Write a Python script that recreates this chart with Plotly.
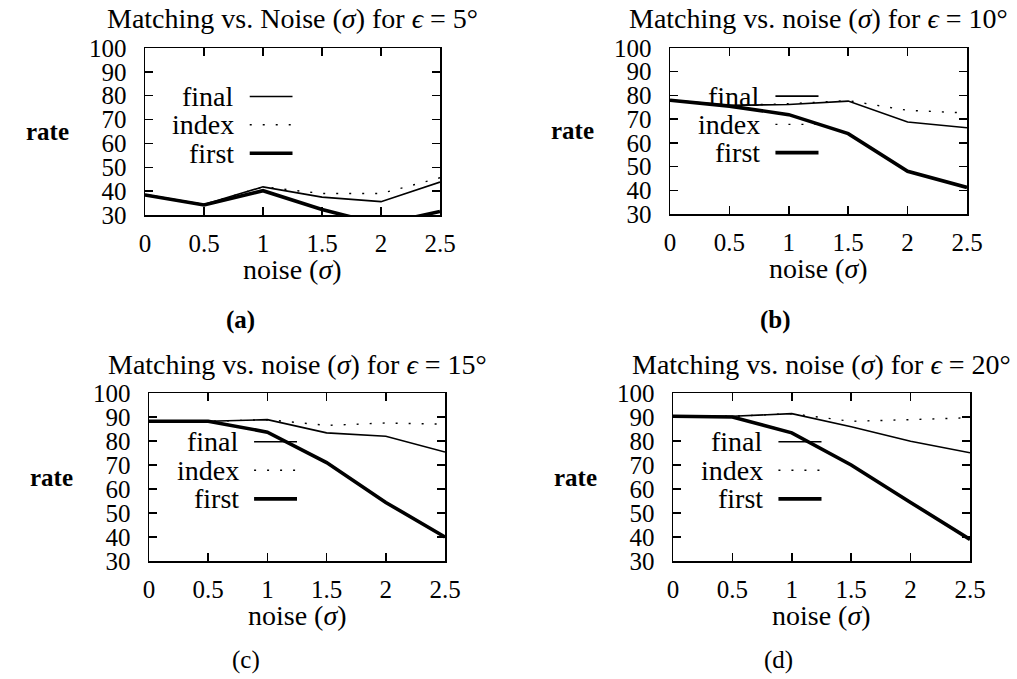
import plotly.graph_objects as go

# ---------------- data ----------------
noise = [0, 0.5, 1, 1.5, 2, 2.5]
x_ticks = [0, 0.5, 1, 1.5, 2, 2.5]
x_tick_text = ["0", "0.5", "1", "1.5", "2", "2.5"]
y_ticks = [30, 40, 50, 60, 70, 80, 90, 100]

a_final = [38.6, 34.4, 41.8, 37.5, 35.6, 43.8]
a_index = [38.6, 34.4, 41.8, 39.0, 39.0, 45.6]
a_first = [38.4, 34.2, 40.2, 32.3, 26.0, 31.5]

b_final = [78.0, 75.8, 76.2, 77.6, 68.8, 66.4]
b_index = [78.0, 75.8, 76.5, 77.8, 73.7, 72.6]
b_first = [78.0, 75.5, 71.9, 63.9, 48.0, 41.2]

c_final = [88.2, 88.2, 88.9, 83.4, 82.0, 75.4]
c_index = [88.2, 88.2, 88.9, 86.5, 87.5, 87.0]
c_first = [88.2, 88.2, 83.7, 71.0, 54.4, 40.0]

d_final = [90.3, 90.3, 91.4, 85.9, 79.9, 75.1]
d_index = [90.3, 90.3, 91.4, 88.2, 88.9, 89.7]
d_first = [90.3, 90.0, 83.4, 70.0, 54.4, 39.0]

titles = [
    "Matching vs. Noise (<i>σ</i>) for <i>ϵ</i> = 5°",
    "Matching vs. noise (<i>σ</i>) for <i>ϵ</i> = 10°",
    "Matching vs. noise (<i>σ</i>) for <i>ϵ</i> = 15°",
    "Matching vs. noise (<i>σ</i>) for <i>ϵ</i> = 20°",
]
sub_labels = ["<b>(a)</b>", "<b>(b)</b>", "(c)", "(d)"]
series_names = ["final", "index", "first"]
x_title = "noise (<i>σ</i>)"
y_title = "<b>rate</b>"

# ---------------- layout geometry (screen pixels) ----------------
W, H = 1017, 679

boxes = [  # left, right, top, bottom (px)
    (145, 440, 48, 215),
    (670, 967, 48, 214),
    (149, 445, 393, 561),
    (673, 970, 393, 561),
]
sub_label_pos = [(240, 320), (775, 320), (246, 660), (778, 660)]


def fx(px):
    return px / W


def fy(py):
    return 1 - py / H


FONT = "Liberation Serif"
FS_TICK = 25
FS_TEXT = 28

panels = [
    (a_final, a_index, a_first),
    (b_final, b_index, b_first),
    (c_final, c_index, c_first),
    (d_final, d_index, d_first),
]

fig = go.Figure()
annotations = []
shapes = []

styles = {
    "final": dict(color="black", width=1.6),
    "index": dict(color="black", width=1.4, dash="2px,11px"),
    "first": dict(color="black", width=3.6),
}

for i, (fin, idx, fst) in enumerate(panels):
    n = i + 1
    xa = "x" if n == 1 else f"x{n}"
    ya = "y" if n == 1 else f"y{n}"
    for name, vals in (("index", idx), ("final", fin), ("first", fst)):
        fig.add_trace(go.Scatter(
            x=noise, y=vals, mode="lines", name=name,
            line=styles[name], xaxis=xa, yaxis=ya, showlegend=False,
            hoverinfo="skip",
        ))
    l, r, t, b = boxes[i]
    axis_common = dict(
        showline=True, mirror="ticks", linecolor="black", linewidth=1.5,
        ticks="inside", ticklen=8, tickwidth=1.5, tickcolor="black",
        showgrid=False, zeroline=False, automargin=False,
        tickfont=dict(family=FONT, size=FS_TICK, color="black"),
    )
    fig.update_layout(**{
        ("xaxis" if n == 1 else f"xaxis{n}"): dict(
            domain=[fx(l), fx(r)], anchor=ya, range=[0, 2.5],
            tickvals=x_ticks, ticktext=x_tick_text, ticklabelstandoff=5,
            **axis_common),
        ("yaxis" if n == 1 else f"yaxis{n}"): dict(
            domain=[fy(b), fy(t)], anchor=xa, range=[30, 100],
            tickvals=y_ticks, ticklabelstandoff=12,
            **axis_common),
    })
    xd = f"{xa} domain"
    yd = f"{ya} domain"
    # title
    annotations.append(dict(text=titles[i], xref=xd, yref=yd, x=0.5, y=1,
                            yanchor="middle", xanchor="center", yshift=29,
                            showarrow=False,
                            font=dict(family=FONT, size=FS_TEXT, color="black")))
    # x axis title
    annotations.append(dict(text=x_title, xref=xd, yref=yd, x=0.5, y=0,
                            yanchor="middle", xanchor="center", yshift=-54,
                            showarrow=False,
                            font=dict(family=FONT, size=FS_TEXT, color="black")))
    # y axis label
    annotations.append(dict(text=y_title, xref=xd, yref=yd, x=0, y=0.5,
                            yanchor="middle", xanchor="center", xshift=-98,
                            showarrow=False,
                            font=dict(family=FONT, size=25, color="black")))
    # sub label
    sx, sy = sub_label_pos[i]
    annotations.append(dict(text=sub_labels[i], xref="paper", yref="paper",
                            x=fx(sx), y=fy(sy), xanchor="center",
                            yanchor="middle", showarrow=False,
                            font=dict(family=FONT, size=25, color="black")))
    # in-plot legend
    for name, ly in zip(series_names, [0.71, 0.54, 0.37]):
        annotations.append(dict(text=name, xref=xd, yref=yd, x=0.31, y=ly,
                                xanchor="right", yanchor="middle",
                                showarrow=False,
                                font=dict(family=FONT, size=FS_TEXT, color="black")))
        st = styles[name]
        shapes.append(dict(type="line", xref=xd, yref=yd, x0=0.355, x1=0.50,
                           y0=ly, y1=ly,
                           line=dict(color="black", width=st["width"],
                                     dash=st.get("dash", "solid"))))

fig.update_layout(
    width=W, height=H, autosize=False,
    margin=dict(l=0, r=0, t=0, b=0, pad=0),
    paper_bgcolor="white", plot_bgcolor="white",
    annotations=annotations, shapes=shapes,
    font=dict(family=FONT, size=FS_TICK, color="black"),
    hovermode=False,
)

fig.write_html(
    "out.html",
    config={"displayModeBar": False, "staticPlot": True},
    post_script="document.body.style.margin='0';"
                "document.body.style.overflow='hidden';",
)
